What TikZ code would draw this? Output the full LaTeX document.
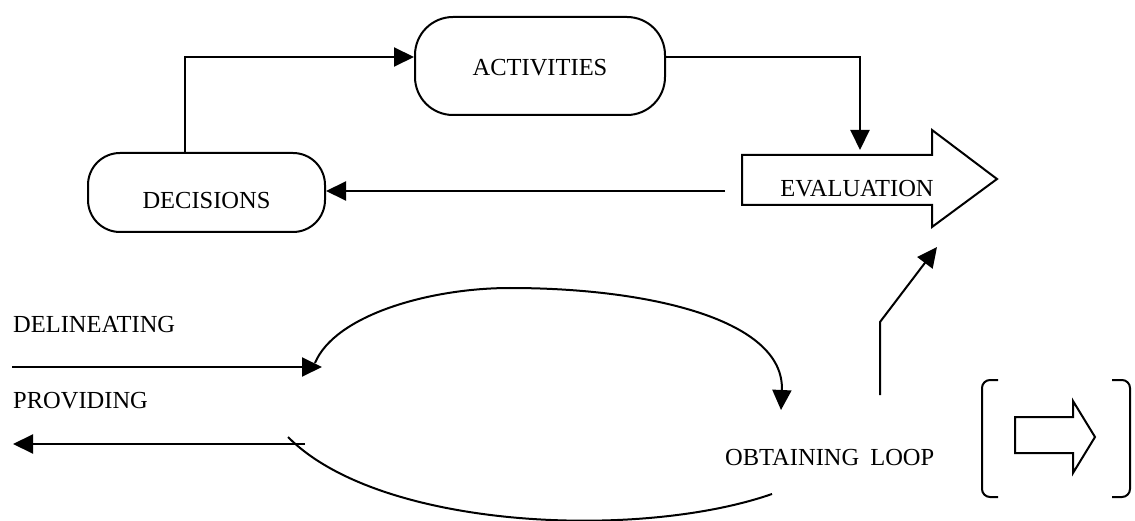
\documentclass[tikz,border=0pt]{standalone}
\usepackage{fontspec}
\setmainfont{Liberation Serif}
\usetikzlibrary{arrows.meta,calc}
\begin{document}
\begin{tikzpicture}[x=1pt,y=-1pt,
  lw/.style={line width=2pt},
  tip/.style={-{Triangle[length=20pt,width=19pt]}},
  txt/.style={font=\fontsize{24.5}{29}\selectfont,inner sep=0pt},
  pill/.style={draw,line width=2pt,txt,text depth=0pt}]
\useasboundingbox (0,0) rectangle (1135,521);

% boxes
\node[pill,minimum width=250pt,minimum height=98pt,rounded corners=38pt,text height=20pt] (act) at (540,66) {ACTIVITIES};
\node[pill,minimum width=237pt,minimum height=79pt,rounded corners=32pt,text height=32pt] (dec) at (206.5,192.5) {DECISIONS};

% evaluation arrow shape
\coordinate (evNW) at (742,155);
\coordinate (evSW) at (742,205);
\draw[lw] (evNW) -- (932,155) -- (932,130) -- (997,179) -- (932,227) -- (932,205) -- (evSW) -- cycle;
\node[txt,anchor=base] (eval) at (857,197) {EVALUATION};

% top connectors
\draw[lw,tip] ([xshift=-21.5pt]dec.north) |- ([yshift=9pt]act.west);
\draw[lw,tip] ([yshift=9pt]act.east) -| ($(evNW)+(118,-5)$);
\coordinate (evIn) at ($(evSW)+(-17,-14)$);
\draw[lw,tip] (evIn) -- (evIn -| dec.east);

% lower labels
\node[txt,anchor=base west] (del) at (13,332) {DELINEATING};
\node[txt,anchor=base west] (prov) at (13,408) {PROVIDING};
\node[txt,anchor=base west] (obt) at (725,465) {OBTAINING\hspace{0.45em}LOOP};

% delineating / providing lines
\coordinate (dIn) at (12,367);
\coordinate (loopL) at (322,367);
\draw[lw,tip] (dIn) -- (loopL);
\coordinate (pOut) at (13,444);
\coordinate (loopP) at (305,444);
\draw[lw,tip] (loopP) -- (pOut);

% loop arcs
\coordinate (upA) at (315,363);
\coordinate (upB) at (781,410);
\draw[lw,tip] (upA) .. controls (335,315) and (430,288) .. (510,288) .. controls (650,288) and (785,320) .. (upB);
\coordinate (loA) at (288,437);
\coordinate (loB) at (772,494);
\draw[lw] (loA) .. controls (380,530) and (640,540) .. (loB);

% obtaining to evaluation
\coordinate (obUp) at (880,395);
\draw[lw,tip] (obUp) -- (880,322) -- ($(evSW)+(195,42)$);

% legend bracket with hollow arrow
\draw[lw,rounded corners=8pt] (998,380) -- (982,380) -- (982,497) -- (998,497);
\draw[lw,rounded corners=8pt] (1112,380) -- (1130,380) -- (1130,497) -- (1112,497);
\draw[lw] (1015,417) -- (1073,417) -- (1073,401) -- (1095,437) -- (1073,473) -- (1073,453) -- (1015,453) -- cycle;
\end{tikzpicture}
\end{document}
